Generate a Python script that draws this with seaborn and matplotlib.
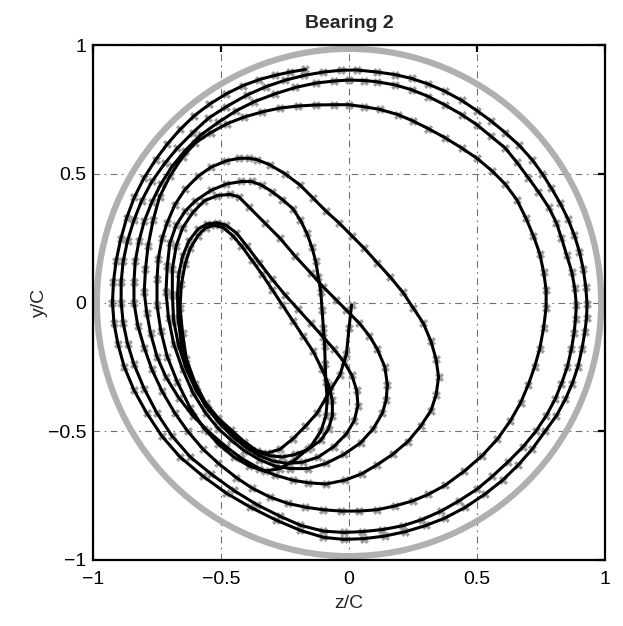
import matplotlib
matplotlib.use("Agg")
import matplotlib.pyplot as plt
from matplotlib.patches import Circle
import numpy as np
import pandas as pd
import seaborn as sns

# Journal orbit of bearing 2, normalised by the radial clearance C.
# The orbit starts at the centre and whirls clockwise outwards; each
# list below is one revolution, given as (z/C, y/C) pairs.
rev0 = [(0.01, -0.01), (0.0, -0.10), (-0.01, -0.20), (-0.035, -0.28), (-0.075, -0.345),
        (-0.125, -0.43), (-0.17, -0.48), (-0.22, -0.53), (-0.27, -0.57), (-0.32, -0.585),
        (-0.36, -0.575), (-0.41, -0.54), (-0.46, -0.495), (-0.51, -0.45), (-0.56, -0.39),
        (-0.60, -0.315), (-0.635, -0.22), (-0.65, -0.12), (-0.66, -0.02), (-0.655, 0.07),
        (-0.64, 0.15), (-0.62, 0.21), (-0.59, 0.26), (-0.56, 0.29), (-0.525, 0.30)]

rev1 = [(-0.49, 0.29), (-0.455, 0.26), (-0.42, 0.22), (-0.38, 0.165), (-0.34, 0.11),
        (-0.30, 0.05), (-0.26, -0.01), (-0.22, -0.07), (-0.18, -0.13), (-0.14, -0.19),
        (-0.105, -0.26), (-0.08, -0.32), (-0.065, -0.38), (-0.065, -0.44), (-0.08, -0.49),
        (-0.11, -0.535), (-0.16, -0.57), (-0.21, -0.59), (-0.26, -0.60), (-0.31, -0.595),
        (-0.36, -0.58), (-0.41, -0.55), (-0.46, -0.51), (-0.51, -0.46), (-0.56, -0.40),
        (-0.60, -0.33), (-0.635, -0.25), (-0.655, -0.16), (-0.668, -0.06), (-0.67, 0.03),
        (-0.665, 0.11), (-0.65, 0.18), (-0.625, 0.24), (-0.59, 0.285), (-0.555, 0.305),
        (-0.515, 0.31)]

rev2 = [(-0.48, 0.30), (-0.44, 0.27), (-0.40, 0.22), (-0.35, 0.155), (-0.30, 0.09),
        (-0.25, 0.03), (-0.20, -0.025), (-0.15, -0.08), (-0.10, -0.135), (-0.06, -0.18),
        (-0.02, -0.23), (0.01, -0.28), (0.03, -0.34), (0.035, -0.40), (0.02, -0.46),
        (-0.01, -0.51), (-0.06, -0.56), (-0.12, -0.60), (-0.18, -0.62), (-0.24, -0.625),
        (-0.30, -0.615), (-0.35, -0.595), (-0.40, -0.565), (-0.45, -0.525), (-0.50, -0.475),
        (-0.55, -0.415), (-0.595, -0.345), (-0.635, -0.26), (-0.665, -0.17), (-0.685, -0.07),
        (-0.69, 0.03), (-0.69, 0.13), (-0.675, 0.22), (-0.65, 0.29), (-0.61, 0.35),
        (-0.565, 0.395), (-0.515, 0.415), (-0.465, 0.42)]

rev3 = [(-0.43, 0.41), (-0.39, 0.37), (-0.33, 0.31), (-0.27, 0.25), (-0.21, 0.18),
        (-0.15, 0.115), (-0.10, 0.06), (-0.05, 0.01), (-0.01, -0.03), (0.04, -0.08),
        (0.08, -0.13), (0.11, -0.18), (0.14, -0.25), (0.15, -0.32), (0.145, -0.38),
        (0.13, -0.43), (0.095, -0.49), (0.045, -0.545), (-0.02, -0.59), (-0.09, -0.625),
        (-0.16, -0.645), (-0.23, -0.645), (-0.29, -0.635), (-0.35, -0.61), (-0.41, -0.575),
        (-0.46, -0.535), (-0.51, -0.49), (-0.56, -0.43), (-0.61, -0.35), (-0.65, -0.26),
        (-0.685, -0.16), (-0.705, -0.06), (-0.715, 0.04), (-0.71, 0.14), (-0.70, 0.23),
        (-0.675, 0.30), (-0.64, 0.355), (-0.60, 0.395), (-0.54, 0.435), (-0.48, 0.46),
        (-0.42, 0.47), (-0.38, 0.47)]

rev4 = [(-0.34, 0.455), (-0.30, 0.43), (-0.26, 0.40), (-0.22, 0.365), (-0.19, 0.32),
        (-0.165, 0.27), (-0.145, 0.215), (-0.13, 0.16), (-0.12, 0.10), (-0.11, 0.04),
        (-0.105, -0.03), (-0.10, -0.10), (-0.095, -0.17), (-0.093, -0.24), (-0.09, -0.31),
        (-0.085, -0.38), (-0.09, -0.44), (-0.11, -0.50), (-0.15, -0.56), (-0.21, -0.61),
        (-0.27, -0.645), (-0.33, -0.655), (-0.39, -0.635), (-0.45, -0.60), (-0.51, -0.55),
        (-0.565, -0.49), (-0.62, -0.41), (-0.67, -0.31), (-0.71, -0.21), (-0.735, -0.11),
        (-0.75, -0.01), (-0.75, 0.09), (-0.745, 0.17), (-0.73, 0.25), (-0.71, 0.31),
        (-0.68, 0.38), (-0.64, 0.44), (-0.59, 0.49), (-0.54, 0.525), (-0.48, 0.55),
        (-0.43, 0.56), (-0.39, 0.56)]

rev5 = [(-0.36, 0.555), (-0.31, 0.535), (-0.25, 0.50), (-0.19, 0.455), (-0.14, 0.405),
        (-0.09, 0.355), (-0.04, 0.31), (0.01, 0.26), (0.06, 0.21), (0.11, 0.155),
        (0.16, 0.10), (0.21, 0.04), (0.25, -0.02), (0.29, -0.08), (0.32, -0.15),
        (0.34, -0.22), (0.35, -0.29), (0.34, -0.36), (0.32, -0.42), (0.28, -0.48),
        (0.23, -0.54), (0.17, -0.59), (0.11, -0.63), (0.05, -0.665), (-0.016, -0.69),
        (-0.09, -0.705), (-0.16, -0.70), (-0.22, -0.69), (-0.29, -0.67), (-0.35, -0.645),
        (-0.42, -0.605), (-0.48, -0.56), (-0.55, -0.50), (-0.61, -0.44), (-0.665, -0.37),
        (-0.715, -0.29), (-0.75, -0.21), (-0.775, -0.12), (-0.79, -0.04), (-0.80, 0.04),
        (-0.795, 0.13), (-0.785, 0.22), (-0.765, 0.32), (-0.74, 0.41), (-0.70, 0.49),
        (-0.65, 0.565), (-0.60, 0.62), (-0.54, 0.66), (-0.475, 0.695), (-0.41, 0.72),
        (-0.34, 0.74), (-0.27, 0.755), (-0.20, 0.763), (-0.13, 0.767), (-0.06, 0.768)]

rev6 = [(0.0, 0.768), (0.06, 0.76), (0.12, 0.75), (0.19, 0.73), (0.25, 0.705),
        (0.31, 0.675), (0.375, 0.64), (0.44, 0.60), (0.50, 0.56), (0.56, 0.51),
        (0.61, 0.46), (0.655, 0.40), (0.69, 0.33), (0.72, 0.26), (0.745, 0.19),
        (0.76, 0.12), (0.77, 0.05), (0.77, -0.02), (0.76, -0.10), (0.745, -0.18),
        (0.725, -0.25), (0.70, -0.32), (0.67, -0.39), (0.63, -0.46), (0.58, -0.53),
        (0.52, -0.595), (0.45, -0.655), (0.375, -0.71), (0.31, -0.745), (0.25, -0.77),
        (0.18, -0.79), (0.11, -0.805), (0.04, -0.81), (-0.03, -0.81), (-0.10, -0.805),
        (-0.17, -0.795), (-0.24, -0.78), (-0.31, -0.755), (-0.38, -0.72), (-0.44, -0.68),
        (-0.51, -0.625), (-0.57, -0.57), (-0.63, -0.50), (-0.68, -0.43), (-0.73, -0.345),
        (-0.77, -0.26), (-0.80, -0.175), (-0.825, -0.09), (-0.84, 0.0), (-0.84, 0.08),
        (-0.835, 0.16), (-0.82, 0.24), (-0.80, 0.315), (-0.77, 0.39), (-0.735, 0.46),
        (-0.69, 0.53), (-0.64, 0.59), (-0.58, 0.65), (-0.51, 0.70), (-0.44, 0.745),
        (-0.37, 0.78), (-0.29, 0.81), (-0.21, 0.835), (-0.13, 0.852), (-0.06, 0.86)]

rev7 = [(0.0, 0.864), (0.06, 0.862), (0.11, 0.857), (0.18, 0.845), (0.245, 0.826),
        (0.31, 0.80), (0.375, 0.767), (0.44, 0.73), (0.50, 0.69), (0.555, 0.645),
        (0.61, 0.60), (0.655, 0.545), (0.70, 0.485), (0.74, 0.43), (0.78, 0.37),
        (0.81, 0.31), (0.83, 0.25), (0.85, 0.185), (0.87, 0.12), (0.882, 0.055),
        (0.888, -0.01), (0.885, -0.065), (0.879, -0.12), (0.869, -0.18), (0.853, -0.25),
        (0.83, -0.315), (0.805, -0.376), (0.77, -0.44), (0.73, -0.50), (0.68, -0.56),
        (0.62, -0.62), (0.56, -0.675), (0.50, -0.725), (0.43, -0.77), (0.36, -0.81),
        (0.285, -0.843), (0.21, -0.867), (0.13, -0.882), (0.05, -0.89), (-0.02, -0.893),
        (-0.10, -0.888), (-0.19, -0.865), (-0.27, -0.83), (-0.36, -0.785), (-0.45, -0.73),
        (-0.54, -0.665), (-0.62, -0.60), (-0.69, -0.52), (-0.75, -0.43), (-0.80, -0.335),
        (-0.84, -0.24), (-0.865, -0.16), (-0.882, -0.08), (-0.89, 0.0), (-0.89, 0.08),
        (-0.882, 0.16), (-0.865, 0.24), (-0.84, 0.32), (-0.81, 0.395), (-0.77, 0.47),
        (-0.72, 0.54), (-0.67, 0.60), (-0.61, 0.66), (-0.55, 0.715), (-0.48, 0.76),
        (-0.40, 0.805), (-0.325, 0.838), (-0.25, 0.863), (-0.175, 0.882), (-0.10, 0.895),
        (-0.03, 0.902)]

rev8 = [(0.03, 0.903), (0.11, 0.895), (0.18, 0.885), (0.245, 0.87), (0.31, 0.848),
        (0.375, 0.82), (0.44, 0.785), (0.50, 0.745), (0.555, 0.705), (0.61, 0.66),
        (0.665, 0.61), (0.715, 0.555), (0.755, 0.50), (0.79, 0.445), (0.825, 0.385),
        (0.855, 0.325), (0.88, 0.262), (0.90, 0.198), (0.915, 0.13), (0.925, 0.06),
        (0.93, -0.005), (0.928, -0.06), (0.921, -0.116), (0.91, -0.18), (0.894, -0.25),
        (0.872, -0.315), (0.845, -0.376), (0.81, -0.44), (0.766, -0.50), (0.715, -0.57),
        (0.66, -0.632), (0.60, -0.69), (0.53, -0.745), (0.455, -0.795), (0.375, -0.837),
        (0.30, -0.866), (0.22, -0.89), (0.14, -0.907), (0.06, -0.917), (-0.02, -0.92),
        (-0.10, -0.912), (-0.19, -0.885), (-0.285, -0.845), (-0.385, -0.795), (-0.48, -0.74),
        (-0.57, -0.675), (-0.66, -0.60), (-0.73, -0.52), (-0.79, -0.43), (-0.84, -0.34),
        (-0.878, -0.25), (-0.903, -0.16), (-0.918, -0.08), (-0.924, 0.0), (-0.92, 0.08),
        (-0.91, 0.16), (-0.892, 0.245), (-0.868, 0.33), (-0.838, 0.41), (-0.80, 0.485),
        (-0.755, 0.555), (-0.71, 0.615), (-0.66, 0.672), (-0.605, 0.725), (-0.545, 0.77),
        (-0.48, 0.81), (-0.415, 0.842), (-0.35, 0.866), (-0.29, 0.882), (-0.23, 0.895),
        (-0.17, 0.905)]

clearance_radius = 0.985
tick_values = [-1, -0.5, 0, 0.5, 1]
tick_labels = ["\u22121", "\u22120.5", "0", "0.5", "1"]

revolutions = [rev0, rev1, rev2, rev3, rev4, rev5, rev6, rev7, rev8]
points = [p for rev in revolutions for p in rev]
orbit = pd.DataFrame(points, columns=["z", "y"])

sns.set_style("white")
plt.rcParams["font.family"] = ["Liberation Sans", "DejaVu Sans"]

fig = plt.figure(figsize=(6.23, 6.26), dpi=100)
ax = fig.add_axes([93 / 623, 1 - 560 / 626, 512 / 623, 515 / 626])

# bearing clearance circle
ax.add_patch(Circle((0, 0), clearance_radius, fill=False, lw=4.5,
                    edgecolor="#b0b0b0", zorder=1))

# sampled orbit points (grey) with the continuous orbit drawn over them
sns.scatterplot(data=orbit, x="z", y="y", ax=ax, marker="X", s=36,
                color="#9c9c9c", edgecolor="#9c9c9c", linewidth=0.3,
                zorder=2, legend=False)
sns.lineplot(data=orbit, x="z", y="y", ax=ax, sort=False, estimator=None,
             color="black", lw=2.2, zorder=3)

ax.set_xlim(-1, 1)
ax.set_ylim(-1, 1)
ax.set_xticks(tick_values)
ax.set_yticks(tick_values)
ax.set_xticklabels(tick_labels)
ax.set_yticklabels(tick_labels)

ax.grid(True, color="#707070", lw=0.8, linestyle=(0, (6, 4, 1.5, 4)))
ax.set_axisbelow(True)

for side in ["top", "bottom", "left", "right"]:
    ax.spines[side].set_visible(True)
    ax.spines[side].set_color("black")
    ax.spines[side].set_linewidth(1.6)

ax.tick_params(axis="both", direction="in", length=5, width=1.6,
               top=True, right=True, labelsize=14, colors="black")
ax.tick_params(axis="x", pad=8)
ax.tick_params(axis="y", pad=5)

ax.set_xlabel("z/C", fontsize=14, labelpad=5)
ax.set_ylabel("y/C", fontsize=14, labelpad=0)
ax.set_title("Bearing 2", fontsize=14, fontweight="bold", pad=12)

fig.savefig("out.png", dpi=100)
